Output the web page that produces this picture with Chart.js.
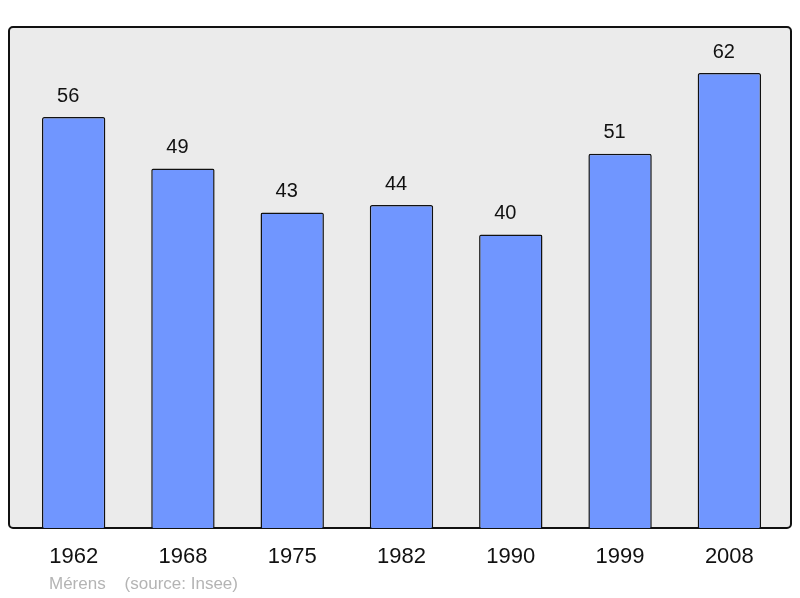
<!DOCTYPE html>
<html>
<head>
<meta charset="utf-8">
<script src="https://cdn.jsdelivr.net/npm/chart.js@4"></script>
<style>
  html, body { margin: 0; padding: 0; background: #fff; }
  #wrap { width: 800px; height: 598px; }
</style>
</head>
<body>
<div id="wrap"><canvas id="bar-chart" width="800" height="598"></canvas></div>
<script>
// population per census year
const years = ["1962", "1968", "1975", "1982", "1990", "1999", "2008"];
const population = [56, 49, 43, 44, 40, 51, 62];
const sourceText = "Mérens    (source: Insee)";

// grey frame behind the bars
const framePlugin = {
    id: 'frame',
    beforeDraw(chart) {
        const ctx = chart.ctx;
        const a = chart.chartArea;
        const x0 = 9, x1 = 791, y0 = a.top, y1 = a.bottom;
        ctx.save();
        ctx.beginPath();
        ctx.roundRect(x0, y0, x1 - x0, y1 - y0, 4);
        ctx.fillStyle = '#ebebeb';
        ctx.fill();
        ctx.lineWidth = 2;
        ctx.strokeStyle = '#111';
        ctx.stroke();
        ctx.restore();
    }
};

// numbers on top of the bars + source line
const labelPlugin = {
    id: 'labels',
    afterDatasetsDraw(chart) {
        const ctx = chart.ctx;
        const meta = chart.getDatasetMeta(0);
        ctx.save();
        ctx.font = '20px "Liberation Sans", Arial, sans-serif';
        ctx.fillStyle = '#111';
        ctx.textAlign = 'center';
        ctx.textBaseline = 'middle';
        meta.data.forEach(function (bar, i) {
            // labels sit a little left of the bar centre in the original
            ctx.fillText(population[i], bar.x - 5.5, bar.y - 21);
        });
        ctx.font = '17px "Liberation Sans", Arial, sans-serif';
        ctx.fillStyle = '#b4b4b4';
        ctx.textAlign = 'left';
        ctx.fillText(sourceText, 49, 584);
        ctx.restore();
    }
};

const chartData = {
    labels: years,
    datasets: [{
        data: population,
        backgroundColor: '#7096ff',
        borderColor: '#111',
        borderWidth: 1.5,
        borderRadius: 2,
        borderSkipped: 'bottom',
        barPercentage: 0.58,
        categoryPercentage: 1
    }]
};

const config = {
    type: 'bar',
    data: chartData,
    options: {
        responsive: false,
        animation: false,
        layout: { padding: { left: 19, right: 16, top: 27, bottom: 20 } },
        plugins: { legend: { display: false }, tooltip: { enabled: false } },
        scales: {
            x: {
                grid: { display: false, drawTicks: false },
                border: { display: false },
                ticks: {
                    color: '#111',
                    font: { size: 22, family: '"Liberation Sans", Arial, sans-serif' },
                    padding: 16
                },
                afterFit(scale) { scale.height = 50; }
            },
            y: {
                display: false,
                min: 0,
                max: 68.27
            }
        }
    },
    plugins: [framePlugin, labelPlugin]
};

const barChart = new Chart(document.getElementById('bar-chart'), config);
</script>
</body>
</html>
